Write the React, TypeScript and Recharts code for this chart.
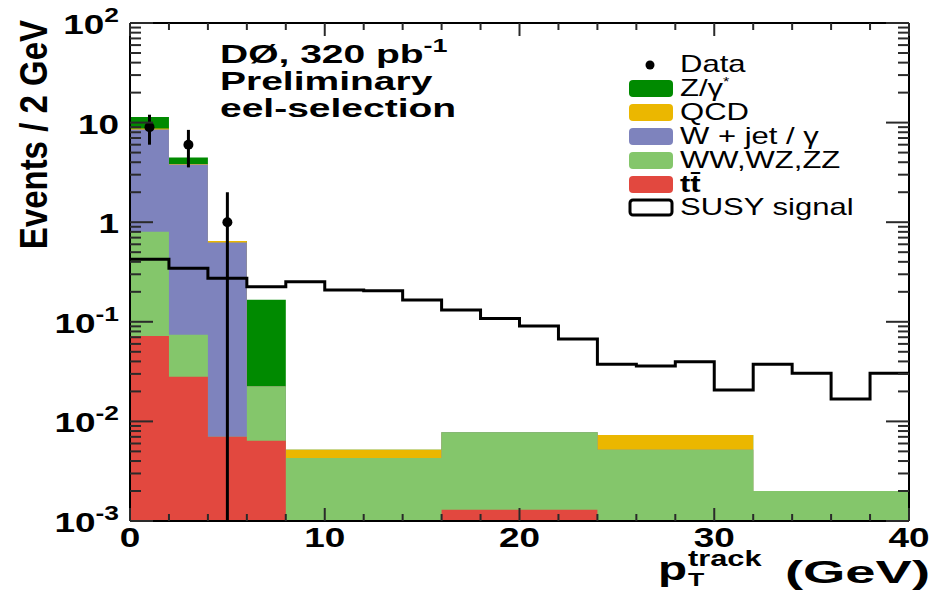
import React from "react";
import { Area, ComposedChart, ErrorBar, Line, ReferenceLine, Scatter, XAxis, YAxis } from "recharts";

const FONT = "'Liberation Sans', Arial, Helvetica, sans-serif";
const W = 948;
const H = 591;
const Y_MIN = 1e-3;
const Y_MAX = 1e2;
const X_MAX = 40;
const MARGIN = { top: 23, right: 39, bottom: 40, left: 70 };

// background bins (GeV): low edges, last entry is the upper edge of the last bin
const bkgEdges = [0, 2, 4, 6, 8, 16, 24, 32, 40];
// per-process contributions, stacked bottom -> top
const ttbar = [0.072, 0.028, 0.007, 0.0064, 0, 0.0013, 0, 0];
const diboson = [0.73, 0.046, 0, 0.016, 0.0043, 0.0065, 0.0052, 0.002];
const wjet = [7.7, 3.73, 0.62, 0, 0, 0, 0, 0];
const qcd = [0.2, 0.04, 0.02, 0, 0.0009, 0, 0.0021, 0];
const zgamma = [2.7, 0.61, 0, 0.144, 0, 0, 0, 0];

// SUSY signal, 2 GeV bins from 0 to 40
const susyEdges = [0, 2, 4, 6, 8, 10, 12, 14, 16, 18, 20, 22, 24, 26, 28, 30, 32, 34, 36, 38, 40];
const susy = [
  0.425, 0.344, 0.273, 0.225, 0.253, 0.208, 0.205, 0.166, 0.131, 0.108,
  0.091, 0.067, 0.0374, 0.036, 0.0398, 0.0207, 0.0374, 0.0304, 0.0168, 0.0304,
];

// data points
const dataX = [1, 3, 5];
const dataY = [9, 6, 1];
const dataErr = [3, 2.45, 1];

const stack = [ttbar, diboson, wjet, qcd, zgamma];
const stackColors = ["#e2483f", "#84c66b", "#7e83bd", "#ebb700", "#008a00"];

const xTicks = [0, 10, 20, 30, 40];
const yTicks = [1e-3, 1e-2, 1e-1, 1, 10, 100];

const legendLabels = ["Data", "Z/γ", "QCD", "W + jet / γ", "WW,WZ,ZZ", "tt̄", "SUSY signal"];
const legendColors = [null, "#008a00", "#ebb700", "#7e83bd", "#84c66b", "#e2483f", null];

function stackLevel(level: number) {
  return bkgEdges.map((x, i) => {
    const b = Math.min(i, ttbar.length - 1);
    let s = 0;
    for (let k = 0; k <= level; k++) s += stack[k][b];
    return { x, y: Math.max(s, Y_MIN) };
  });
}

const susyData = susyEdges.map((x, i) => ({ x, y: susy[Math.min(i, susy.length - 1)] }));
const points = dataX.map((x, i) => ({
  x,
  y: dataY[i],
  err: [Math.min(dataErr[i], dataY[i] - Y_MIN), dataErr[i]],
}));

// tick marks (drawn inside the frame, ROOT style)
const DEC_PX = 99.6;
const PX_PER_X = 19.475;
const yMinor: number[] = [];
for (let d = -3; d < 2; d++) for (let m = 2; m < 10; m++) yMinor.push(m * Math.pow(10, d));
const xAll: number[] = [];
for (let v = 0; v <= X_MAX; v += 2) xAll.push(v);

function YTick(props: any) {
  const { x, y, payload } = props;
  const exp = Math.round(Math.log10(payload.value));
  return (
    <g transform={`translate(${x},${y + 11}) scale(1.32,1)`}>
      <text textAnchor="end" fontFamily={FONT} fontWeight="bold" fontSize={28} fill="#000">
        {exp === 0 ? "1" : exp === 1 ? "10" : (
          <>
            10
            <tspan fontSize={20} dy={-12}>{exp}</tspan>
          </>
        )}
      </text>
    </g>
  );
}

function XTick(props: any) {
  const { x, y, payload } = props;
  return (
    <g transform={`translate(${x},${y + 26}) scale(1.32,1)`}>
      <text textAnchor="middle" fontFamily={FONT} fontWeight="bold" fontSize={28} fill="#000">
        {payload.value}
      </text>
    </g>
  );
}

// second chart on top, same scales, holds only the frame and the inward tick marks
function TickLayer() {
  const tickColor = "#2a2a2a";
  const yLen = (px: number) => px / PX_PER_X;
  const xLenBottom = (px: number) => Y_MIN * Math.pow(10, px / DEC_PX);
  const xLenTop = (px: number) => Y_MAX / Math.pow(10, px / DEC_PX);
  const yMarks = [...yTicks.map((v) => [v, 23]), ...yMinor.map((v) => [v, 11])];
  return (
    <div style={{ position: "absolute", left: 0, top: 0, pointerEvents: "none" }}>
      <ComposedChart width={W} height={H} data={[{ x: 0, y: 1 }]} margin={{ top: 23, right: 39, bottom: 70, left: 130 }}>
        <XAxis type="number" dataKey="x" domain={[0, X_MAX]} allowDataOverflow hide />
        <YAxis type="number" scale="log" domain={[Y_MIN, Y_MAX]} allowDataOverflow hide />
        <ReferenceLine y={Y_MAX} stroke="#000" strokeWidth={2} ifOverflow="visible" />
        <ReferenceLine x={X_MAX} stroke="#000" strokeWidth={2} ifOverflow="visible" />
        {yMarks.map(([v, len], i) => (
          <React.Fragment key={"y" + i}>
            <ReferenceLine
              segment={[{ x: 0, y: v }, { x: yLen(len), y: v }]}
              stroke={tickColor}
              strokeWidth={2}
              ifOverflow="visible"
            />
            <ReferenceLine
              segment={[{ x: X_MAX - yLen(len), y: v }, { x: X_MAX, y: v }]}
              stroke={tickColor}
              strokeWidth={2}
              ifOverflow="visible"
            />
          </React.Fragment>
        ))}
        {xAll.map((v) => {
          const len = v % 10 === 0 ? 13 : 7;
          return (
            <React.Fragment key={"x" + v}>
              <ReferenceLine
                segment={[{ x: v, y: Y_MIN }, { x: v, y: xLenBottom(len) }]}
                stroke={tickColor}
                strokeWidth={2}
                ifOverflow="visible"
              />
              <ReferenceLine
                segment={[{ x: v, y: xLenTop(len) }, { x: v, y: Y_MAX }]}
                stroke={tickColor}
                strokeWidth={2}
                ifOverflow="visible"
              />
            </React.Fragment>
          );
        })}
      </ComposedChart>
    </div>
  );
}

function Overlay() {
  const rowY = [64, 88, 112, 136, 160, 184, 207];
  return (
    <svg width={W} height={H} style={{ position: "absolute", left: 0, top: 0, pointerEvents: "none" }}>
      {/* y title */}
      <g transform="translate(47,20) rotate(-90) scale(1,1.2)">
        <text textAnchor="end" fontFamily={FONT} fontWeight="bold" fontSize={33} fill="#000">
          Events / 2 GeV
        </text>
      </g>
      {/* x title */}
      <g transform="translate(658,580) scale(1.4,1)">
        <text fontFamily={FONT} fontWeight="bold" fontSize={34} fill="#000">p</text>
      </g>
      <g transform="translate(688,566) scale(1.4,1)">
        <text fontFamily={FONT} fontWeight="bold" fontSize={22} fill="#000">track</text>
      </g>
      <g transform="translate(688,586) scale(1.4,1)">
        <text fontFamily={FONT} fontWeight="bold" fontSize={19} fill="#000">T</text>
      </g>
      <g transform="translate(930,583) scale(1.7,1)">
        <text textAnchor="end" fontFamily={FONT} fontWeight="bold" fontSize={32} fill="#000">(GeV)</text>
      </g>
      {/* annotation */}
      <g transform="translate(220,63) scale(1.5,1)">
        <text fontFamily={FONT} fontWeight="bold" fontSize={26} fill="#000">
          DØ, 320 pb<tspan fontSize={18} dy={-11}>-1</tspan>
        </text>
      </g>
      <g transform="translate(220,90) scale(1.5,1)">
        <text fontFamily={FONT} fontWeight="bold" fontSize={26} fill="#000">Preliminary</text>
      </g>
      <g transform="translate(220,117) scale(1.5,1)">
        <text fontFamily={FONT} fontWeight="bold" fontSize={26} fill="#000">eel-selection</text>
      </g>
      {/* legend */}
      {legendLabels.map((lab, i) => {
        const cy = rowY[i];
        const c = legendColors[i];
        return (
          <g key={lab}>
            {i === 0 && <circle cx={650} cy={cy + 1} r={4.5} fill="#000" />}
            {c && <rect x={629} y={cy - 8} width={44} height={17} rx={4} fill={c} />}
            {i === 6 && (
              <rect x={630} y={cy - 7} width={42} height={15} rx={3} fill="#fff" stroke="#000" strokeWidth={3} />
            )}
            <g transform={`translate(680,${cy + 8}) scale(1.35,1)`}>
              <text fontFamily={FONT} fontWeight={i === 5 ? "bold" : "normal"} fontSize={23} fill="#000">
                {lab}
                {i === 1 && <tspan fontSize={12} dy={-10}>*</tspan>}
              </text>
            </g>
          </g>
        );
      })}
    </svg>
  );
}

export default function App() {
  return (
    <div style={{ position: "absolute", left: 0, top: 0, width: W, height: H, background: "#fff" }}>
      <ComposedChart width={W} height={H} margin={MARGIN}>
        <XAxis
          type="number"
          dataKey="x"
          domain={[0, X_MAX]}
          ticks={xTicks}
          interval={0}
          allowDataOverflow
          tickLine={false}
          tickSize={0}
          tickMargin={0}
          height={30}
          axisLine={{ stroke: "#000", strokeWidth: 2 }}
          tick={<XTick />}
        />
        <YAxis
          type="number"
          scale="log"
          domain={[Y_MIN, Y_MAX]}
          ticks={yTicks}
          interval={0}
          allowDataOverflow
          tickLine={false}
          tickSize={0}
          tickMargin={11}
          width={60}
          axisLine={{ stroke: "#000", strokeWidth: 2 }}
          tick={<YTick />}
        />
        {stack.map((_, k) => {
          const level = stack.length - 1 - k;
          return (
            <Area
              key={level}
              data={stackLevel(level)}
              dataKey="y"
              type="stepAfter"
              baseValue={Y_MIN}
              fill={stackColors[level]}
              fillOpacity={1}
              stroke="none"
              isAnimationActive={false}
            />
          );
        })}
        <Line
          data={susyData}
          dataKey="y"
          type="stepAfter"
          stroke="#000"
          strokeWidth={3}
          dot={false}
          isAnimationActive={false}
        />
        <Scatter
          data={points}
          dataKey="y"
          fill="#000"
          isAnimationActive={false}
          shape={(p: any) => <circle cx={p.cx} cy={p.cy} r={5} fill="#000" />}
        >
          <ErrorBar dataKey="err" direction="y" width={0} stroke="#000" strokeWidth={3} isAnimationActive={false} />
        </Scatter>
      </ComposedChart>
      <TickLayer />
      <Overlay />
    </div>
  );
}
